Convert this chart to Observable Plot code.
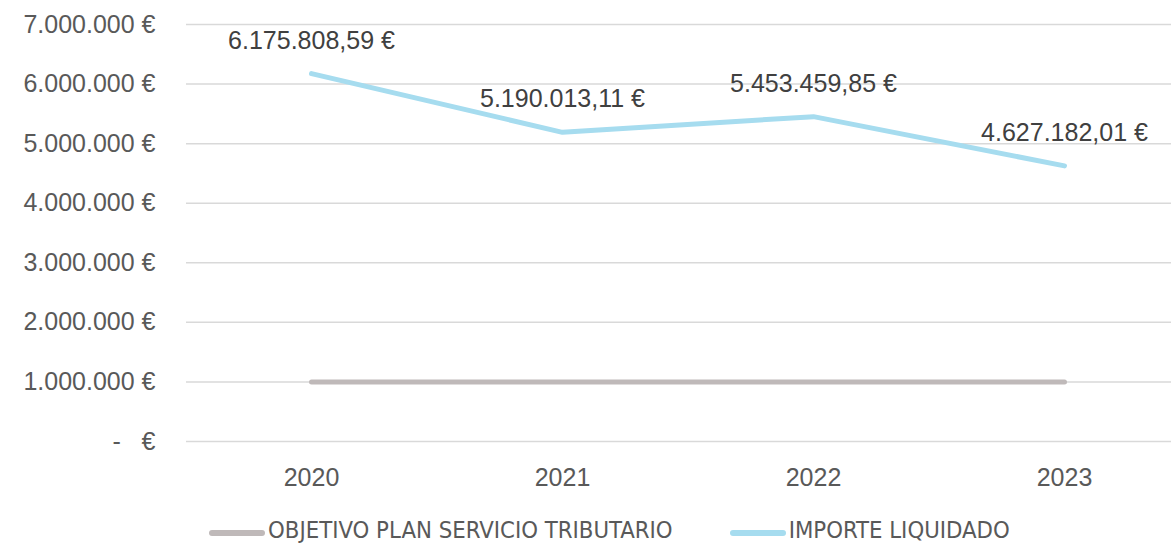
<!DOCTYPE html>
<html><head><meta charset="utf-8">
<script src="https://cdn.jsdelivr.net/npm/d3@7"></script>
<script src="https://cdn.jsdelivr.net/npm/@observablehq/plot@0.6"></script>
<style>
body{margin:0;background:#fff;font-family:"Liberation Sans",Arial,sans-serif;overflow:hidden;}
#chart{width:1171px;}
#legend{display:flex;align-items:flex-end;height:43px;padding-left:209px;color:#595959;font-size:23.7px;line-height:23.7px;font-family:"Liberation Sans Narrow","DejaVu Sans Condensed",sans-serif;}
.item{display:flex;align-items:center;margin-right:57px;height:23.7px;}
.sw{display:inline-block;width:56px;height:6px;border-radius:3px;margin-right:3px;position:relative;top:2px;}
</style></head><body><div id="chart"></div>
<script>
const years = ["2020", "2021", "2022", "2023"];
const importeLiquidado = [6175808.59, 5190013.11, 5453459.85, 4627182.01];
const objetivoPlan = [1000000, 1000000, 1000000, 1000000];
const yTicks = [0, 1000000, 2000000, 3000000, 4000000, 5000000, 6000000, 7000000];
const seriesNames = ["OBJETIVO PLAN SERVICIO TRIBUTARIO", "IMPORTE LIQUIDADO"];
const seriesColors = ["#bfb9b9", "#a6dcef"];

const loc = d3.formatLocale({decimal: ",", thousands: ".", grouping: [3], currency: ["", "\u00a0€"]});
const fInt = loc.format(",.0f");
const fDec = loc.format(",.2f");
const tickFmt = v => v === 0 ? "-\u00a0\u00a0\u00a0€" : fInt(v) + " €";
const labelFmt = v => fDec(v) + " €";

const objData = years.map((y, i) => ({year: y, value: objetivoPlan[i], series: seriesNames[0]}));
const impData = years.map((y, i) => ({year: y, value: importeLiquidado[i], series: seriesNames[1]}));

const chart = Plot.plot({
  width: 1171, height: 500,
  marginLeft: 186, marginRight: 0, marginTop: 24, marginBottom: 59,
  style: {fontSize: "25px", fontFamily: '"Liberation Sans", Arial, sans-serif', color: "#595959", background: "#fff"},
  x: {type: "point", domain: years, range: [184, 1191], padding: 0.5, label: null},
  y: {domain: [0, 7000000], label: null},
  marks: [
    Plot.gridY(yTicks, {stroke: "#d9d9d9", strokeOpacity: 1, strokeWidth: 1.5}),
    Plot.axisY(yTicks, {tickSize: 0, tickPadding: 31, tickFormat: tickFmt, fill: "#595959", fontSize: 25, label: null}),
    Plot.axisX({tickSize: 0, tickPadding: 27, fill: "#595959", fontSize: 25, label: null}),
    Plot.line(objData, {x: "year", y: "value", stroke: seriesColors[0], strokeWidth: 5, strokeLinecap: "round", strokeLinejoin: "round"}),
    Plot.line(impData, {x: "year", y: "value", stroke: seriesColors[1], strokeWidth: 5, strokeLinecap: "round", strokeLinejoin: "round"}),
    Plot.text(impData, {x: "year", y: "value", text: d => labelFmt(d.value), dy: -33, fill: "#404040", fontSize: 25})
  ]
});
chart.style.display = "block";
document.getElementById("chart").appendChild(chart);

const legend = document.createElement("div");
legend.id = "legend";
seriesNames.forEach((n, i) => {
  const it = document.createElement("div"); it.className = "item";
  const sw = document.createElement("span"); sw.className = "sw"; sw.style.background = seriesColors[i];
  const t = document.createElement("span"); t.textContent = n;
  it.appendChild(sw); it.appendChild(t); legend.appendChild(it);
});
document.getElementById("chart").appendChild(legend);
</script></body></html>
